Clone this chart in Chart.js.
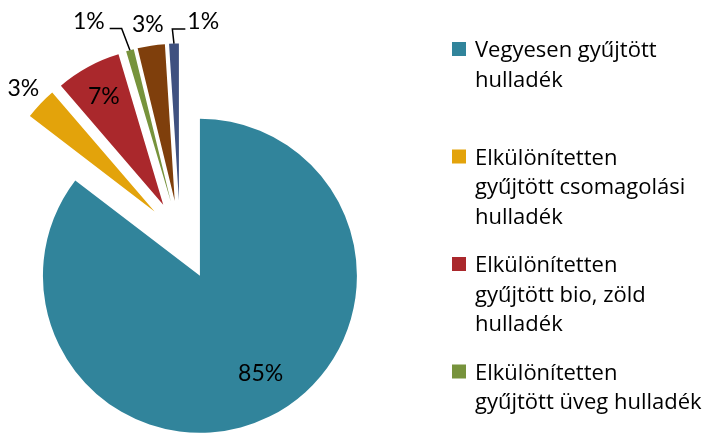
<!DOCTYPE html>
<html><head><meta charset="utf-8">
<script src="https://cdn.jsdelivr.net/npm/chart.js@4/dist/chart.umd.min.js"></script>
<style>html,body{margin:0;padding:0;background:#fff}canvas{display:block}</style>
</head><body>
<canvas id="c" width="710" height="433"></canvas>
<script>
// ---- data ----
const categories = [
  ["Vegyesen gyűjtött", "hulladék"],
  ["Elkülönítetten", "gyűjtött csomagolási", "hulladék"],
  ["Elkülönítetten", "gyűjtött bio, zöld", "hulladék"],
  ["Elkülönítetten", "gyűjtött üveg hulladék"],
  ["Elkülönítetten", "gyűjtött papír hulladék"],
  ["Egyéb", "hulladék"]
];
const shares = [85.4, 3.3, 6.7, 0.8, 2.8, 1.0];
const colors = ["#31849B", "#E3A30B", "#AA282C", "#77933C", "#7F3F0C", "#3F5180"];

// ---- styles ----
const FONT = "Lato, 'Open Sans', sans-serif";
const LEGEND_FONT = "'Open Sans', Lato, sans-serif";
const explodeMain = 45, explodeSmall = 35;
const labelPlacement = [
  {k: 0.73, dx: 10, dy: -6},
  {k: 1.15},
  {k: 0.79},
  {k: 1.15, dx: -35, dy: -7, leader: 'left'},
  {k: 1.14},
  {k: 1.15, dx: 30, dy: 1, leader: 'right'}
];

const explodePlugin = {
  id: 'explode',
  afterDatasetUpdate(chart, args) {
    args.meta.data.forEach((arc, i) => {
      const d = i === 0 ? explodeMain : explodeSmall;
      const mid = (arc.startAngle + arc.endAngle) / 2;
      arc.x += Math.cos(mid) * d;
      arc.y += Math.sin(mid) * d;
    });
  }
};

const labelPlugin = {
  id: 'pctLabels',
  afterDatasetsDraw(chart) {
    const ctx = chart.ctx;
    const arcs = chart.getDatasetMeta(0).data;
    const total = shares.reduce((a, b) => a + b, 0);
    const fs = 23;
    ctx.save();
    ctx.font = fs + 'px ' + FONT;
    ctx.fillStyle = '#000';
    ctx.textAlign = 'center';
    ctx.textBaseline = 'alphabetic';
    arcs.forEach((arc, i) => {
      const p = labelPlacement[i];
      const mid = (arc.startAngle + arc.endAngle) / 2;
      const r = arc.outerRadius;
      const cx = arc.x + Math.cos(mid) * r * p.k + (p.dx || 0);
      const cy = arc.y + Math.sin(mid) * r * p.k + (p.dy || 0);
      const txt = Math.round(shares[i] / total * 100) + '%';
      ctx.fillText(txt, cx, cy + fs * 0.36);
      if (p.leader) {
        const w = ctx.measureText(txt).width;
        const tipX = arc.x + Math.cos(mid) * r, tipY = arc.y + Math.sin(mid) * r;
        const ly = cy + 8;
        let endX, elbowX;
        if (p.leader === 'left') { endX = cx + w / 2 + 5; elbowX = endX + 12; }
        else { endX = cx - w / 2 - 2; elbowX = endX - 13; }
        ctx.beginPath();
        ctx.moveTo(endX, ly);
        ctx.lineTo(elbowX, ly);
        ctx.lineTo(tipX, tipY);
        ctx.strokeStyle = '#000';
        ctx.lineWidth = 1.5;
        ctx.stroke();
      }
    });
    ctx.restore();
  }
};

const legendPlugin = {
  id: 'sideLegend',
  afterDraw(chart) {
    const ctx = chart.ctx;
    const top0 = 42, slot = 107.5, x0 = 452, sq = 14, tx = 475, lh = 29.5;
    ctx.save();
    ctx.font = '22px ' + LEGEND_FONT;
    ctx.textAlign = 'left';
    ctx.textBaseline = 'alphabetic';
    categories.forEach((lines, i) => {
      const y = top0 + i * slot;
      ctx.fillStyle = colors[i];
      ctx.fillRect(x0, y, sq, sq);
      ctx.fillStyle = '#000';
      lines.forEach((ln, j) => ctx.fillText(ln, tx, y + 15 + j * lh));
    });
    ctx.restore();
  }
};

function build() {
  new Chart(document.getElementById('c'), {
    type: 'pie',
    data: {
      labels: categories,
      datasets: [{
        data: shares,
        backgroundColor: colors,
        borderWidth: 0,
        radius: 157,
        clip: false
      }]
    },
    options: {
      responsive: false,
      animation: false,
      events: [],
      layout: {padding: {left: 0, right: 350, top: 38, bottom: 0}},
      plugins: {legend: {display: false}, tooltip: {enabled: false}}
    },
    plugins: [explodePlugin, labelPlugin, legendPlugin]
  });
}
Promise.all([document.fonts.load('20px Lato'), document.fonts.load("20px 'Open Sans'")]).then(build, build);
</script>
</body></html>
